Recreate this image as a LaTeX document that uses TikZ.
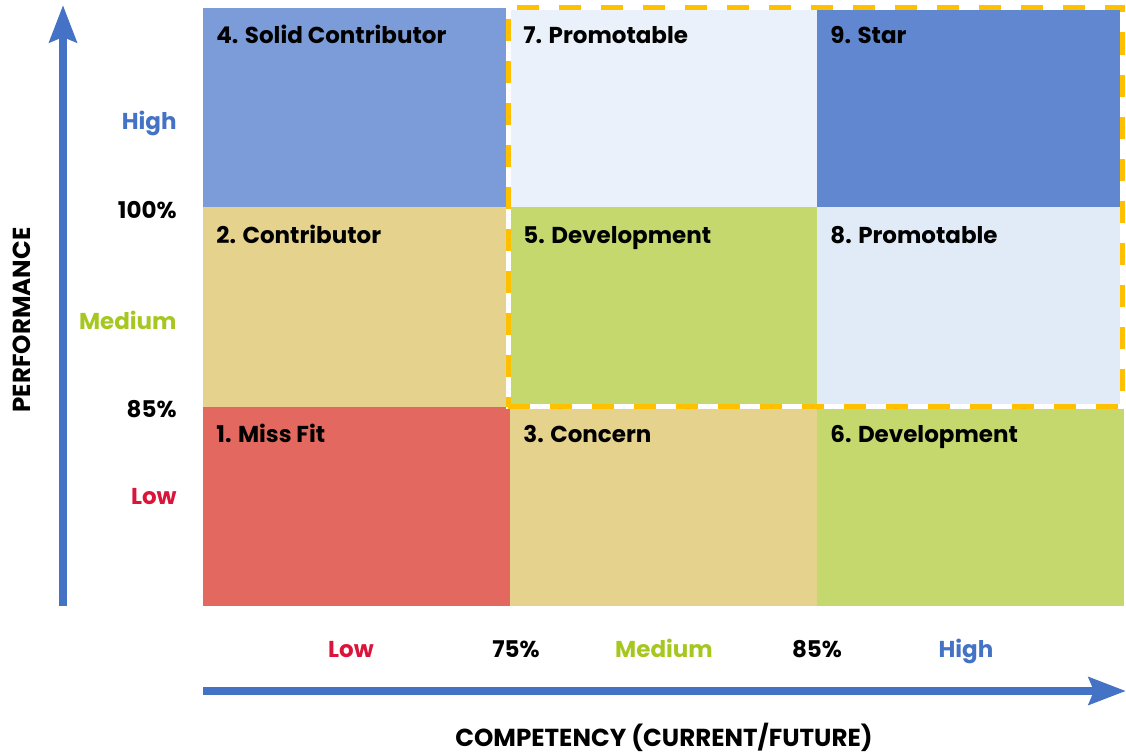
\documentclass[tikz,border=0pt]{standalone}
\usepackage{fontspec}
\setmainfont{Poppins}
\usepackage{tikz}
\usetikzlibrary{positioning, fit, arrows.meta}
\definecolor{mymidblue}{RGB}{123, 156, 216}
\definecolor{mydarkblue}{RGB}{97, 135, 208}
\definecolor{mypaleblue}{RGB}{234, 241, 250}
\definecolor{mylightblue}{RGB}{225, 235, 247}
\definecolor{mytan}{RGB}{229, 210, 141}
\definecolor{mygreen}{RGB}{197, 216, 109}
\definecolor{myred}{RGB}{227, 104, 95}
\definecolor{myaxisblue}{RGB}{68, 114, 196}
\definecolor{mylabelgreen}{RGB}{166, 198, 32}
\definecolor{mylabelred}{RGB}{218, 20, 58}
\definecolor{mygold}{RGB}{255, 192, 0}

\begin{document}
\begin{tikzpicture}[x = 0.5pt, y = -0.5pt, node distance = 0pt,
  cell/.style={rectangle, inner sep = 0pt, outer sep = 0pt, minimum width = 153.5pt, minimum height = 99.75pt},
  tag/.style={anchor = base west, inner sep = 0pt, font = \fontsize{11.5}{13}\selectfont\bfseries},
  level/.style={anchor = base east, inner sep = 0pt, font = \fontsize{11.5}{13}\selectfont\bfseries},
  ticklbl/.style={anchor = base, inner sep = 0pt, font = \fontsize{11.5}{13}\selectfont\bfseries},
  title/.style={inner sep = 0pt, font = \fontsize{12.3}{14}\selectfont\bfseries},
  axis/.style={myaxisblue, line width = 4pt, -{Stealth[length = 18.5pt, width = 13.5pt, inset = 2.5pt]}}]
  \useasboundingbox (0,0) rectangle (1126,755);

  % cells
  \node [cell, fill = myred, anchor = south west] (c1) at (203,606) {};
  \node [cell, fill = mytan][right = of c1] (c3) {};
  \node [cell, fill = mygreen][right = of c3] (c6) {};
  \node [cell, fill = mytan][above = of c1] (c2) {};
  \node [cell, fill = mygreen][right = of c2] (c5) {};
  \node [cell, fill = mylightblue][right = of c5] (c8) {};
  \node [cell, fill = mymidblue][above = of c2] (c4) {};
  \node [cell, fill = mypaleblue][right = of c4] (c7) {};
  \node [cell, fill = mydarkblue][right = of c7] (c9) {};

  % cell labels
  \node [tag] at ([shift={(13,36)}]c1.north west) {1. Miss Fit};
  \node [tag] at ([shift={(13,36)}]c2.north west) {2. Contributor};
  \node [tag] at ([shift={(13,36)}]c3.north west) {3. Concern};
  \node [tag] at ([shift={(13,36)}]c4.north west) {4. Solid Contributor};
  \node [tag] at ([shift={(13,36)}]c5.north west) {5. Development};
  \node [tag] at ([shift={(13,36)}]c6.north west) {6. Development};
  \node [tag] at ([shift={(13,36)}]c7.north west) {7. Promotable};
  \node [tag] at ([shift={(13,36)}]c8.north west) {8. Promotable};
  \node [tag] at ([shift={(13,36)}]c9.north west) {9. Star};

  % promotable box
  \node (promo) [fit = (c7) (c8), inner sep = 0pt, xshift = -1pt, draw = white, line width = 2.5pt] {};
  \node (promo-dash) [fit = (c7) (c8), inner sep = 0pt, xshift = -1pt, draw = mygold, line width = 2.5pt, dash pattern = on 11pt off 10pt] {};

  % performance axis
  \coordinate (perf-start) at (63,606);
  \coordinate (perf-end) at (63,5);
  \draw [axis] (perf-start) to (perf-end);
  \node [level, text = myaxisblue] (perf-high) at (177,129) {High};
  \node [level] (perf-100) at (177,218) {100\%};
  \node [level, text = mylabelgreen] (perf-medium) at (177,329) {Medium};
  \node [level] (perf-85) at (177,417) {85\%};
  \node [level, text = mylabelred] (perf-low) at (177,504) {Low};
  \node [title, rotate = 90] (perf-title) at (22,320) {PERFORMANCE};

  % competency axis
  \coordinate (comp-start) at (203,691);
  \coordinate (comp-end) at (1126,691);
  \draw [axis] (comp-start) to (comp-end);
  \node [ticklbl, text = mylabelred] (comp-low) at (351,657) {Low};
  \node [ticklbl] (comp-75) at (516,657) {75\%};
  \node [ticklbl, text = mylabelgreen] (comp-medium) at (664,657) {Medium};
  \node [ticklbl] (comp-85) at (817,657) {85\%};
  \node [ticklbl, text = myaxisblue] (comp-high) at (966,657) {High};
  \node [title, anchor = base] (comp-title) at (664,746) {COMPETENCY (CURRENT/FUTURE)};
\end{tikzpicture}
\end{document}
